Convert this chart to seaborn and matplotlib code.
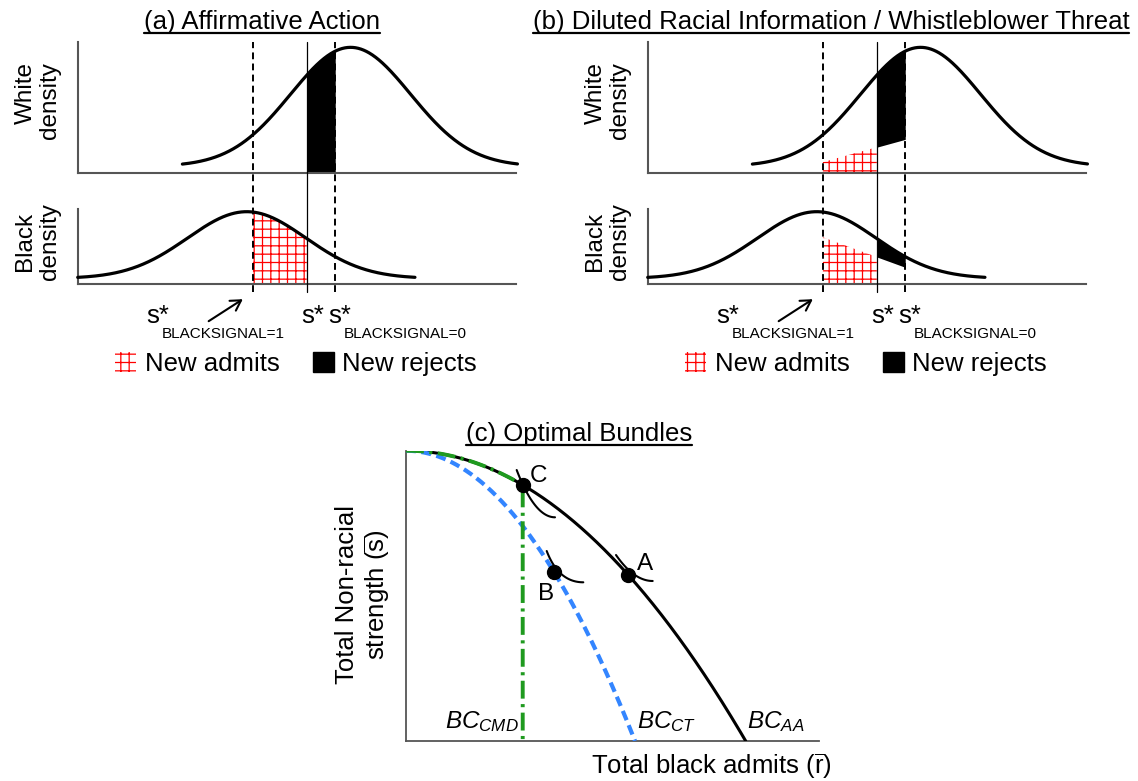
import numpy as np
import pandas as pd
import matplotlib
matplotlib.use("Agg")
import matplotlib.pyplot as plt
import seaborn as sns
from matplotlib.patches import Patch
from matplotlib.lines import Line2D

# ---------------- data ----------------
# Panels (a)/(b): signal axis runs 0..10, densities scaled so the peak = 1
white_mean, white_sd, white_floor = 6.23, 1.37, 0.05
black_mean, black_sd, black_floor = 3.86, 1.35, 0.08
white_range = [2.39, 10.04]
black_range = [0.0, 7.70]
thresholds = [4.0, 5.23, 5.88]          # s*_BLACKSIGNAL=1, s*, s*_BLACKSIGNAL=0
# panel (b): split line heights at thresholds[0] and thresholds[2]
white_split = [0.085, 0.266]
black_split = [0.647, 0.234]
legend_labels = ["New admits", "New rejects"]
panel_titles = ["(a) Affirmative Action",
                "(b) Diluted Racial Information / Whistleblower Threat",
                "(c) Optimal Bundles"]
density_labels = ["White\ndensity", "Black\ndensity"]

# Panel (c): budget constraints y = 1 - (x / intercept)^power
bc_aa_intercept, bc_ct_intercept, bc_power = 0.8225, 0.5545, 2.0
bundle_names = ["C", "B", "A"]
bundle_x = [0.2826, 0.359, 0.538]
bundle_curve = ["AA", "CT", "AA"]
# indifference arcs: start, control, end (quadratic Bezier) per bundle
arc_start = [(0.268, 0.9335), (0.3407, 0.6545), (0.5085, 0.6407)]
arc_ctrl = [(0.3119, 0.7706), (0.3695, 0.5467), (0.5521, 0.5512)]
arc_end = [(0.3608, 0.7706), (0.4293, 0.5467), (0.5973, 0.5512)]
bundle_label_pos = [(0.300, 0.891), (0.320, 0.486), (0.559, 0.589)]
bc_labels = [r"$BC_{CMD}$", r"$BC_{CT}$", r"$BC_{AA}$"]
bc_label_x = [0.094, 0.559, 0.825]

# ---------------- style ----------------
sns.set_theme(style="white")
plt.rcParams["font.family"] = ["Liberation Sans", "DejaVu Sans"]
plt.rcParams["text.color"] = "black"
plt.rcParams["mathtext.fontset"] = "custom"
plt.rcParams["mathtext.rm"] = "Liberation Sans"
plt.rcParams["mathtext.it"] = "Liberation Sans:italic"
plt.rcParams["mathtext.bf"] = "Liberation Sans:bold"
plt.rcParams["hatch.linewidth"] = 0.9

W, H = 1138, 781
fig = plt.figure(figsize=(W / 100, H / 100), dpi=100)


def box(l, t, r, b):
    return [l / W, 1 - b / H, (r - l) / W, (b - t) / H]


def density(x, mean, sd, floor):
    return floor + (1 - floor) * np.exp(-0.5 * ((x - mean) / sd) ** 2)


def style_axes(ax, lw=1.5):
    ax.set_xticks([])
    ax.set_yticks([])
    ax.set(xlabel="", ylabel="")
    ax.set_facecolor("none")
    for side in ["top", "right"]:
        ax.spines[side].set_visible(False)
    for side in ["left", "bottom"]:
        ax.spines[side].set_color("#555555")
        ax.spines[side].set_linewidth(lw)


HATCH = dict(facecolor="none", edgecolor="red", hatch="++", linewidth=0)
DASH = (0, (3.5, 2.2))


def density_panel(dx, diluted):
    ax_b = fig.add_axes(box(77.7 + dx, 209, 515.7 + dx, 284.3))
    ax_t = fig.add_axes(box(77.7 + dx, 41.7, 515.7 + dx, 172.7))
    xw = np.linspace(white_range[0], white_range[1], 500)
    xb = np.linspace(black_range[0], black_range[1], 500)
    dfw = pd.DataFrame({"signal": xw, "density": density(xw, white_mean, white_sd, white_floor)})
    dfb = pd.DataFrame({"signal": xb, "density": density(xb, black_mean, black_sd, black_floor)})
    sns.lineplot(data=dfw, x="signal", y="density", color="black", lw=2.3, ax=ax_t, zorder=4)
    sns.lineplot(data=dfb, x="signal", y="density", color="black", lw=2.3, ax=ax_b, zorder=4)
    for ax in (ax_t, ax_b):
        for ln in ax.lines:
            ln.set_clip_on(False)
    ax_t.set_xlim(0, 10)
    ax_b.set_xlim(0, 10)
    ax_t.set_ylim(0, 1.045)
    ax_b.set_ylim(0, 1.037)
    style_axes(ax_t)
    style_axes(ax_b)

    t0, t1, t2 = thresholds
    xa = np.linspace(t0, t1, 100)
    xr = np.linspace(t1, t2, 100)
    wa = density(xa, white_mean, white_sd, white_floor)
    wr = density(xr, white_mean, white_sd, white_floor)
    ba = density(xa, black_mean, black_sd, black_floor)
    br = density(xr, black_mean, black_sd, black_floor)
    if not diluted:
        ax_t.fill_between(xr, 0, wr, color="black", lw=0, zorder=2)
        ax_b.fill_between(xa, 0, ba, **HATCH, zorder=2)
    else:
        wl_a = np.interp(xa, [t0, t2], white_split)
        wl_r = np.interp(xr, [t0, t2], white_split)
        bl_a = np.interp(xa, [t0, t2], black_split)
        bl_r = np.interp(xr, [t0, t2], black_split)
        ax_t.fill_between(xa, 0, wl_a, **HATCH, zorder=2)
        ax_t.fill_between(xr, wl_r, wr, color="black", lw=0, zorder=2)
        ax_b.fill_between(xa, 0, bl_a, **HATCH, zorder=2)
        ax_b.fill_between(xr, bl_r, br, color="black", lw=0, zorder=2)

    ymin = (172.7 - 292.3) / 131.0
    ax_t.axvline(t0, ymin=ymin, ymax=1, color="black", lw=1.4, ls=DASH, clip_on=False, zorder=5)
    ax_t.axvline(t1, ymin=ymin, ymax=1, color="black", lw=0.9, clip_on=False, zorder=5)
    ax_t.axvline(t2, ymin=ymin, ymax=1, color="black", lw=1.4, ls=DASH, clip_on=False, zorder=5)

    # threshold labels
    ax_b.text(1.56, -0.532, "s*", fontsize=18.5, ha="left", va="baseline", clip_on=False)
    ax_b.text(1.92, -0.741, "BLACKSIGNAL=1", fontsize=11, ha="left", va="baseline", clip_on=False)
    ax_b.text(5.10, -0.532, "s*", fontsize=18.5, ha="left", va="baseline", clip_on=False)
    ax_b.text(5.73, -0.532, "s*", fontsize=18.5, ha="left", va="baseline", clip_on=False)
    ax_b.text(6.08, -0.741, "BLACKSIGNAL=0", fontsize=11, ha="left", va="baseline", clip_on=False)
    ax_b.annotate("", xy=(3.77, -0.205), xytext=(2.99, -0.508),
                  arrowprops=dict(arrowstyle="->,head_length=0.6,head_width=0.35",
                                  lw=1.5, color="black", shrinkA=0, shrinkB=0),
                  annotation_clip=False)

    # side labels
    fig.text((37.7 + dx) / W, 1 - 100.5 / H, density_labels[0], rotation=90, fontsize=17.5,
             ha="center", va="center", multialignment="right", linespacing=1.15)
    fig.text((37.7 + dx) / W, 1 - 241.6 / H, density_labels[1], rotation=90, fontsize=17.5,
             ha="center", va="center", multialignment="center", linespacing=1.15)

    handles = [Patch(**HATCH), Patch(facecolor="black", edgecolor="black")]
    ax_b.legend(handles, legend_labels, loc="center left",
                bbox_to_anchor=((115 + dx) / W, 1 - 364 / H), bbox_transform=fig.transFigure,
                ncol=2, frameon=False, fontsize=18.5, handlelength=0.82, handleheight=0.85,
                handletextpad=0.33, columnspacing=1.3, borderpad=0, borderaxespad=0)
    return ax_t, ax_b


density_panel(0, diluted=False)
density_panel(570, diluted=True)

# ---------------- panel (c) ----------------
ax_c = fig.add_axes(box(406, 450.7, 819, 741))
x_aa = np.linspace(0, bc_aa_intercept, 400)
x_ct = np.linspace(0, bc_ct_intercept, 400)
df_aa = pd.DataFrame({"r": x_aa, "s": 1 - (x_aa / bc_aa_intercept) ** bc_power})
df_ct = pd.DataFrame({"r": x_ct, "s": 1 - (x_ct / bc_ct_intercept) ** bc_power})
sns.lineplot(data=df_aa, x="r", y="s", color="black", lw=2.2, ax=ax_c, zorder=3)
sns.lineplot(data=df_ct, x="r", y="s", color="#3385ff", lw=3.0, ax=ax_c, zorder=3)
ax_c.lines[-1].set_linestyle((0, (2.4, 1.3)))

# green constrained-mix curve: along BC_AA up to C, then vertical
xc = bundle_x[0]
x_g = np.linspace(0, xc, 120)
y_g = 1 - (x_g / bc_aa_intercept) ** bc_power
x_g = np.append(x_g, [xc])
y_g = np.append(y_g, [0])
ax_c.plot(x_g, y_g, color="#1f9a1f", lw=2.8, ls=(0, (4.6, 1.4, 0.8, 1.4)), zorder=4)

for name, bx, cv, p0, p1, p2, lp in zip(bundle_names, bundle_x, bundle_curve,
                                        arc_start, arc_ctrl, arc_end, bundle_label_pos):
    icpt = bc_aa_intercept if cv == "AA" else bc_ct_intercept
    by = 1 - (bx / icpt) ** bc_power
    t = np.linspace(0, 1, 60)[:, None]
    P = (1 - t) ** 2 * np.array(p0) + 2 * t * (1 - t) * np.array(p1) + t ** 2 * np.array(p2)
    ax_c.plot(P[:, 0], P[:, 1], color="black", lw=1.5, zorder=5)
    ax_c.plot([bx], [by], "o", color="black", ms=10, zorder=6)
    ax_c.text(lp[0], lp[1], name, fontsize=17.5, ha="left", va="baseline")

for lab, lx in zip(bc_labels, bc_label_x):
    ax_c.text(lx, 0.045, lab, fontsize=17.5, ha="left", va="baseline")

ax_c.set_xlim(0, 1)
ax_c.set_ylim(0, 1)
style_axes(ax_c, lw=1.3)

fig.text(711.6 / W, 1 - 774 / H, r"Total black admits ($\overline{\mathrm{r}}$)", fontsize=18.5,
         ha="center", va="baseline")
fig.text(363.8 / W, 1 - 595 / H, "Total Non-racial\n" + r"strength ($\overline{\mathrm{s}}$)",
         rotation=90, fontsize=18.5, ha="center", va="center", multialignment="center",
         linespacing=1.15)

# ---------------- titles with underline ----------------
title_pos = [(261.7, 29.5), (831.0, 29.5), (579.0, 441.5)]
titles = []
for ttl, (tx, ty) in zip(panel_titles, title_pos):
    titles.append(fig.text(tx / W, 1 - ty / H, ttl, fontsize=18.5, ha="center", va="baseline"))

fig.canvas.draw()
rend = fig.canvas.get_renderer()
for txt, (tx, ty) in zip(titles, title_pos):
    bb = txt.get_window_extent(rend)
    yl = (H - ty - 3.0) / H
    fig.add_artist(Line2D([bb.x0 / W, bb.x1 / W], [yl, yl], transform=fig.transFigure,
                          color="black", lw=1.6))

fig.savefig("out.png", dpi=100)
